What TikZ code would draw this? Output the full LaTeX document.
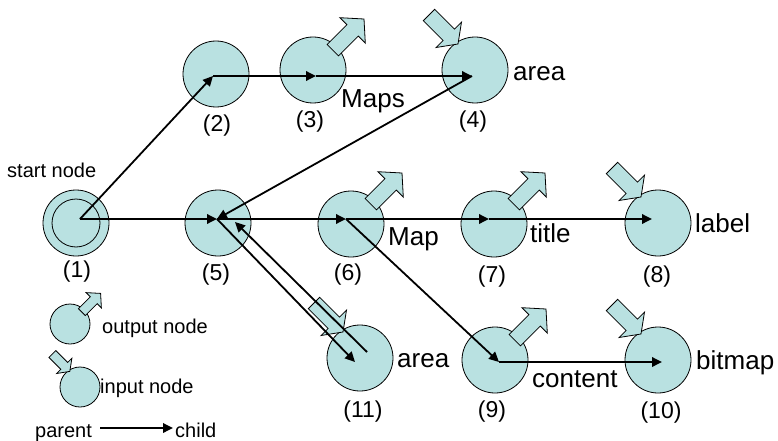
\documentclass[tikz,border=0pt]{standalone}
\usepackage{fontspec}
\setmainfont{Liberation Sans}
\usetikzlibrary{arrows.meta}
\definecolor{nodefill}{RGB}{185,225,225}
\begin{document}
\begin{tikzpicture}[x=1pt,y=-1pt,
  circ/.style={circle,draw=black,line width=0.8pt,fill=nodefill,minimum size=66pt,inner sep=0pt},
  smallcirc/.style={circ,minimum size=40pt},
  edge/.style={line width=1.8pt,-{Triangle[length=10pt,width=9.5pt]}},
  blk/.style={draw=black,line width=0.8pt,fill=nodefill,line join=miter},
  big/.style={font=\fontsize{26}{30}\selectfont,inner sep=0pt},
  num/.style={font=\fontsize{23}{27}\selectfont,inner sep=0pt},
  small/.style={font=\fontsize{20}{24}\selectfont,inner sep=0pt},
  outarr/.pic={\filldraw[blk] (14.1,-25.5) -- (25.5,-14.1) -- (45.3,-33.9) -- (52.3,-26.9) -- (51,-51) -- (26.9,-52.3) -- (33.9,-45.3) -- cycle;},
  inarr/.pic={\filldraw[blk] (-51.7,-49.3) -- (-31.9,-29.5) -- (-38.9,-22.5) -- (-17,-26) -- (-13.5,-47.9) -- (-20.5,-40.9) -- (-40.3,-60.7) -- cycle;}
]
\useasboundingbox (0,0) rectangle (778,441);

% circles
\node[circ] (n1) at (76,223) {};
\node[circle,draw=black,line width=0.8pt,minimum size=48pt,inner sep=0pt] (n1in) at (76,223) {};
\node[circ] (n2) at (216,74) {};
\node[circ] (n3) at (313,70) {};
\node[circ] (n4) at (475,70) {};
\node[circ] (n5) at (218,223) {};
\node[circ] (n6) at (351,224) {};
\node[circ] (n7) at (494,224) {};
\node[circ] (n8) at (658,223) {};
\node[circ] (n9) at (495,360) {};
\node[circ] (n10) at (658,360) {};
\node[circ] (n11) at (360,358) {};
\node[smallcirc] (lo) at (70,324) {};
\node[smallcirc] (li) at (80,387) {};

% block arrows
\pic at (313,70) {outarr};
\pic at (351,224) {outarr};
\pic at (494,224) {outarr};
\pic at (495,360) {outarr};
\pic[scale=0.6] at (70,324) {outarr};
\pic at (475,70) {inarr};
\pic at (658,223) {inarr};
\pic at (658,360) {inarr};
\pic at (360,358) {inarr};
\pic[scale=0.6] at (80,387) {inarr};

% connector points
\coordinate (p1) at (80,219);
\coordinate (p2) at (213,76);
\coordinate (p3) at (316,76);
\coordinate (p4) at (472,76);
\coordinate (p5) at (217,219);
\coordinate (p6) at (346,219);
\coordinate (p7) at (489,219);
\coordinate (p8) at (652,219);
\coordinate (p9) at (499,362);
\coordinate (p10) at (662,362);
\coordinate (p11) at (355,362);
\coordinate (q11) at (367,352);
\coordinate (q5) at (235,222);
\coordinate (lp) at (100,428);
\coordinate (lc) at (173,428);

% edges
\draw[edge] (p1) -- (p2);
\draw[edge] (p1) -- (p5);
\draw[edge] (p2) -- (p3);
\draw[edge] (p3) -- (p4);
\draw[edge] (p4) -- (p5);
\draw[edge] (p5) -- (p6);
\draw[edge] (p5) -- (p11);
\draw[edge] (q11) -- (q5);
\draw[edge] (p6) -- (p7);
\draw[edge] (p7) -- (p8);
\draw[edge] (p6) -- (p9);
\draw[edge] (p9) -- (p10);
\draw[edge] (lp) -- (lc);

% numbers
\node[num] (t1) at (77,272) {(1)};
\node[num] (t2) at (217,126) {(2)};
\node[num] (t3) at (310,122) {(3)};
\node[num] (t4) at (473,122) {(4)};
\node[num] (t5) at (216,275) {(5)};
\node[num] (t6) at (348,275) {(6)};
\node[num] (t7) at (492,277) {(7)};
\node[num] (t8) at (657,277) {(8)};
\node[num] (t9) at (492,412) {(9)};
\node[num] (t10) at (661,413) {(10)};
\node[num] (t11) at (363,412) {(11)};

% labels
\node[big,anchor=base] (lMaps) at (373,108) {Maps};
\node[big,anchor=base west] (lArea4) at (513,81) {area};
\node[big,anchor=base west] (lMap) at (388,245) {Map};
\node[big,anchor=base west] (lTitle) at (530,242) {title};
\node[big,anchor=base west] (lLabel) at (695,232) {label};
\node[big,anchor=base west] (lArea11) at (397,367) {area};
\node[big,anchor=base west] (lContent) at (532,387) {content};
\node[big,anchor=base west] (lBitmap) at (696,369) {bitmap};

% legend text
\node[small,anchor=base west] (lstart) at (7,177) {start node};
\node[small,anchor=base west] (lout) at (102,333) {output node};
\node[small,anchor=base west] (lin) at (100,393) {input node};
\node[small,anchor=base west] (lparent) at (35,437) {parent};
\node[small,anchor=base west] (lchild) at (175,437) {child};
\end{tikzpicture}
\end{document}
